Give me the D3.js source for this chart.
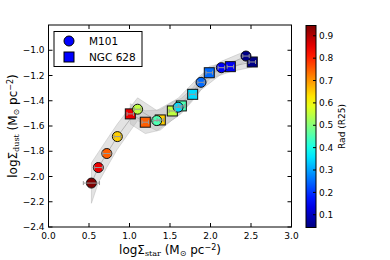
<!DOCTYPE html>
<html>
<head>
<meta charset="utf-8">
<script src="https://cdn.jsdelivr.net/npm/d3@7"></script>
<style>
body { margin: 0; background: #fff; }
text { font-family: "DejaVu Sans", sans-serif; }
</style>
</head>
<body>
<div id="chart"></div>
<script>
// M101 (circles)
var m101Star = [0.53, 0.615, 0.72, 0.85, 1.10, 1.336, 1.60, 1.883, 2.134, 2.438]
var m101Dust = [-2.052, -1.929, -1.818, -1.684, -1.467, -1.557, -1.451, -1.254, -1.138, -1.046]
var m101Rad = [0.95, 0.85, 0.75, 0.65, 0.55, 0.45, 0.35, 0.25, 0.15, 0.05]
var m101Err = [0.16, 0.12, 0.11, 0.1, 0.09, 0.08, 0.07, 0.06, 0.05, 0.04]
var m101XErr = [0.1, 0.05, 0.05, 0.04, 0.04, 0.04, 0.04, 0.04, 0.04, 0.04]
// NGC 628 (squares)
var ngcStar = [1.01, 1.195, 1.38, 1.529, 1.64, 1.78, 1.985, 2.245, 2.516]
var ngcDust = [-1.504, -1.570, -1.552, -1.481, -1.441, -1.349, -1.178, -1.130, -1.093]
var ngcRad = [0.85, 0.75, 0.65, 0.55, 0.45, 0.35, 0.25, 0.15, 0.05]
var ngcErr = [0.08, 0.09, 0.08, 0.07, 0.06, 0.05, 0.05, 0.04, 0.04]
var ngcXErr = [0.04, 0.04, 0.04, 0.04, 0.04, 0.04, 0.04, 0.04, 0.04]

var xTicks = [0.0, 0.5, 1.0, 1.5, 2.0, 2.5, 3.0]
var yTicks = [-2.4, -2.2, -2.0, -1.8, -1.6, -1.4, -1.2, -1.0]
var cTicks = [0.1, 0.2, 0.3, 0.4, 0.5, 0.6, 0.7, 0.8, 0.9]

var svg = d3.select("#chart").append("svg").attr("width", 390).attr("height", 260)

var margin = { top: 25, bottom: 33, left: 48.5, right: 98.5 }
var width = 390 - margin.left - margin.right
var height = 260 - margin.top - margin.bottom

var x = d3.scaleLinear().domain([0, 3]).range([0, width])
var y = d3.scaleLinear().domain([-2.4, -0.8]).range([height, 0])

// jet colormap
var jet = d3.scaleLinear()
    .domain([0, 0.125, 0.375, 0.625, 0.875, 1])
    .range(["#00007f", "#0000ff", "#00ffff", "#ffff00", "#ff0000", "#7f0000"])
var norm = d3.scaleLinear().domain([0.043, 0.946]).range([0, 1]).clamp(true)
function color(v) { return jet(norm(v)) }

var g = svg.append("g").attr("transform", "translate(" + margin.left + "," + margin.top + ")")

function series(xs, ys, rad, err, xerr) {
    return xs.map(function(d, i) {
        return { x: d, y: ys[i], rad: rad[i], err: err[i], xerr: xerr[i] }
    })
}
var m101 = series(m101Star, m101Dust, m101Rad, m101Err, m101XErr)
var ngc = series(ngcStar, ngcDust, ngcRad, ngcErr, ngcXErr)

// shaded bands
var area = d3.area()
    .x(function(d) { return x(d.x) })
    .y0(function(d) { return y(d.y - d.err) })
    .y1(function(d) { return y(d.y + d.err) })
var line = d3.line()
    .x(function(d) { return x(d.x) })
    .y(function(d) { return y(d.y) })

;[m101, ngc].forEach(function(s) {
    g.append("path").datum(s).attr("d", area)
        .style("fill", "#b5b5b5").style("fill-opacity", 0.38)
        .style("stroke", "#b5b5b5").style("stroke-opacity", 0.6).style("stroke-width", 0.8)
})
;[m101, ngc].forEach(function(s) {
    g.append("path").datum(s).attr("d", line)
        .style("fill", "none").style("stroke", "#aaaaaa").style("stroke-width", 0.8)
})

// error bars across markers
function errorBars(s) {
    var eb = g.append("g").style("stroke", "#999").style("stroke-width", 1)
    s.forEach(function(d) {
        var cx = x(d.x), cy = y(d.y)
        eb.append("line").attr("x1", x(d.x - d.xerr)).attr("x2", x(d.x + d.xerr)).attr("y1", cy).attr("y2", cy)
        eb.append("line").attr("x1", x(d.x - d.xerr)).attr("x2", x(d.x - d.xerr)).attr("y1", cy - 2).attr("y2", cy + 2)
        eb.append("line").attr("x1", x(d.x + d.xerr)).attr("x2", x(d.x + d.xerr)).attr("y1", cy - 2).attr("y2", cy + 2)
    })
}

g.selectAll(".sq").data(ngc).enter().append("rect")
    .attr("class", "sq")
    .attr("x", function(d) { return x(d.x) - 5 })
    .attr("y", function(d) { return y(d.y) - 5 })
    .attr("width", 10).attr("height", 10)
    .style("fill", function(d) { return color(d.rad) })
    .style("stroke", "#111").style("stroke-width", 1)

g.selectAll(".ci").data(m101).enter().append("circle")
    .attr("class", "ci")
    .attr("cx", function(d) { return x(d.x) })
    .attr("cy", function(d) { return y(d.y) })
    .attr("r", 5)
    .style("fill", function(d) { return color(d.rad) })
    .style("stroke", "#111").style("stroke-width", 1)

errorBars(ngc)
errorBars(m101)

// frame
g.append("rect").attr("width", width).attr("height", height)
    .style("fill", "none").style("stroke", "#000").style("stroke-width", 1)

// ticks inside, on all sides
xTicks.forEach(function(t) {
    g.append("line").attr("x1", x(t)).attr("x2", x(t)).attr("y1", height).attr("y2", height - 4).style("stroke", "#000")
    g.append("line").attr("x1", x(t)).attr("x2", x(t)).attr("y1", 0).attr("y2", 4).style("stroke", "#000")
    g.append("text").attr("x", x(t)).attr("y", height + 11.5).attr("text-anchor", "middle")
        .style("font-size", "9px").text(t.toFixed(1))
})
yTicks.forEach(function(t) {
    g.append("line").attr("x1", 0).attr("x2", 4).attr("y1", y(t)).attr("y2", y(t)).style("stroke", "#000")
    g.append("line").attr("x1", width).attr("x2", width - 4).attr("y1", y(t)).attr("y2", y(t)).style("stroke", "#000")
    g.append("text").attr("x", -4).attr("y", y(t)).attr("dy", "0.35em").attr("text-anchor", "end")
        .style("font-size", "9px").text(t.toFixed(1).replace("-", "\u2212"))
})

// axis labels
var xl = svg.append("text").attr("x", margin.left + width / 2).attr("y", 254).attr("text-anchor", "middle").style("font-size", "12px")
xl.append("tspan").text("log\u03A3")
xl.append("tspan").attr("dy", 2).style("font-size", "8px").style("font-family", "DejaVu Serif").text("star")
xl.append("tspan").attr("dy", -2).text(" (M")
xl.append("tspan").attr("dy", 2).style("font-size", "8px").text("\u2299")
xl.append("tspan").attr("dy", -2).text(" pc")
xl.append("tspan").attr("dy", -4).style("font-size", "8px").text("\u22122")
xl.append("tspan").attr("dy", 4).text(")")

var yl = svg.append("text").attr("transform", "translate(17," + (margin.top + height / 2) + ") rotate(-90)")
    .attr("text-anchor", "middle").style("font-size", "12px")
yl.append("tspan").text("log\u03A3")
yl.append("tspan").attr("dy", 2).style("font-size", "8px").style("font-family", "DejaVu Serif").text("dust")
yl.append("tspan").attr("dy", -2).text(" (M")
yl.append("tspan").attr("dy", 2).style("font-size", "8px").text("\u2299")
yl.append("tspan").attr("dy", -2).text(" pc")
yl.append("tspan").attr("dy", -4).style("font-size", "8px").text("\u22122")
yl.append("tspan").attr("dy", 4).text(")")

// legend
var lg = g.append("g").attr("transform", "translate(5.5,6.5)")
lg.append("rect").attr("width", 88).attr("height", 35).style("fill", "#fff").style("stroke", "#000").style("stroke-width", 1)
lg.append("circle").attr("cx", 15).attr("cy", 9.5).attr("r", 5).style("fill", "#0000ff").style("stroke", "#000")
lg.append("rect").attr("x", 10).attr("y", 20.5).attr("width", 10).attr("height", 10).style("fill", "#0000ff").style("stroke", "#000")
lg.append("text").attr("x", 35).attr("y", 9.5).attr("dy", "0.35em").style("font-size", "10.5px").text("M101")
lg.append("text").attr("x", 35).attr("y", 25.5).attr("dy", "0.35em").style("font-size", "10.5px").text("NGC 628")

// colorbar
var cbX = 306, cbW = 10, cbTop = 25.5, cbH = 202
var cy = d3.scaleLinear().domain(norm.domain()).range([cbTop + cbH, cbTop])
var grad = svg.append("defs").append("linearGradient").attr("id", "jetgrad")
    .attr("x1", "0").attr("y1", "1").attr("x2", "0").attr("y2", "0")
d3.range(0, 1.0001, 0.05).forEach(function(t) {
    grad.append("stop").attr("offset", t).attr("stop-color", jet(t))
})
svg.append("rect").attr("x", cbX).attr("y", cbTop).attr("width", cbW).attr("height", cbH)
    .style("fill", "url(#jetgrad)").style("stroke", "#000").style("stroke-width", 1)
cTicks.forEach(function(t) {
    svg.append("line").attr("x1", cbX + cbW).attr("x2", cbX + cbW - 3).attr("y1", cy(t)).attr("y2", cy(t)).style("stroke", "#000")
    svg.append("text").attr("x", cbX + cbW + 3).attr("y", cy(t)).attr("dy", "0.35em")
        .style("font-size", "9px").text(t.toFixed(1))
})
svg.append("text").attr("transform", "translate(345," + (cbTop + cbH / 2) + ") rotate(-90)")
    .attr("text-anchor", "middle").style("font-size", "9px").text("Rad (R25)")
</script>
</body>
</html>
